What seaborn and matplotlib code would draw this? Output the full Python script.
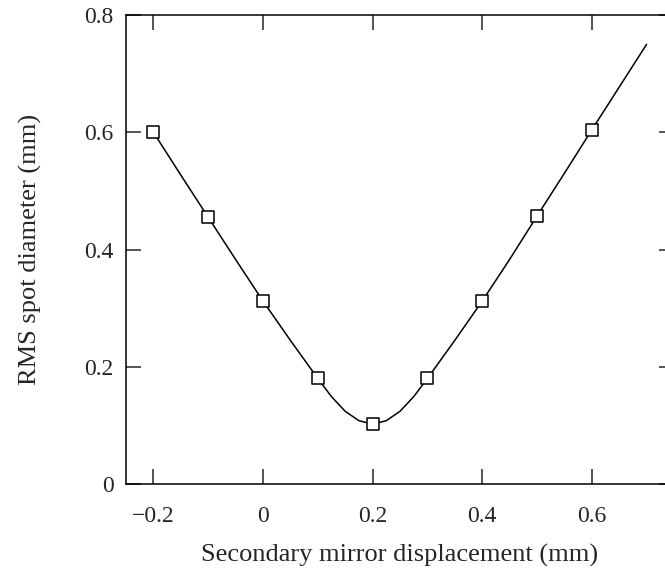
import numpy as np
import pandas as pd
import seaborn as sns
import matplotlib
matplotlib.use("Agg")
import matplotlib.pyplot as plt

# measured points (squares)
disp = [-0.2, -0.1, 0.0, 0.1, 0.2, 0.3, 0.4, 0.5, 0.6]
rms = [0.600, 0.455, 0.312, 0.180, 0.102, 0.180, 0.312, 0.457, 0.604]

# traced curve
curve_x = [-0.2, -0.15, -0.1, -0.05, 0.0, 0.05, 0.1, 0.125, 0.15, 0.175, 0.2,
           0.225, 0.25, 0.275, 0.3, 0.35, 0.4, 0.45, 0.5, 0.55, 0.6, 0.65, 0.7]
curve_y = [0.600, 0.527, 0.455, 0.383, 0.312, 0.245, 0.180, 0.149, 0.124,
           0.108, 0.102, 0.108, 0.124, 0.149, 0.180, 0.245, 0.312, 0.383,
           0.457, 0.530, 0.604, 0.677, 0.750]


def main():
    sns.set_style("ticks")
    plt.rcParams['font.family'] = ['Liberation Serif', 'DejaVu Serif']
    plt.rcParams['axes.linewidth'] = 1.1

    pts = pd.DataFrame({"x": disp, "y": rms})
    line = pd.DataFrame({"x": curve_x, "y": curve_y})

    fig = plt.figure(figsize=(6.65, 5.75), dpi=100)
    ax = fig.add_axes([126 / 665, 91 / 575, 548 / 665, 469 / 575])

    sns.lineplot(data=line, x="x", y="y", color="black", linewidth=1.1, ax=ax)
    sns.scatterplot(data=pts, x="x", y="y", marker="s", s=70,
                    facecolor="white", edgecolor="black", linewidth=1.1,
                    zorder=3, ax=ax)

    ax.set_xlim(-0.25, 0.75)
    ax.set_ylim(0, 0.8)
    ax.set_xticks([-0.2, 0, 0.2, 0.4, 0.6])
    ax.set_xticklabels(["\u22120.2", "0", "0.2", "0.4", "0.6"])
    ax.set_yticks([0, 0.2, 0.4, 0.6, 0.8])
    ax.set_yticklabels(["0", "0.2", "0.4", "0.6", "0.8"])
    ax.tick_params(direction="in", length=11, width=1.1, top=True, right=True,
                   labelsize=17)
    ax.tick_params(axis="x", pad=16)
    ax.tick_params(axis="y", pad=9)
    for s in ax.spines.values():
        s.set_visible(True)
        s.set_color("black")

    ax.set_xlabel("Secondary mirror displacement (mm)", fontsize=19, labelpad=12)
    ax.set_ylabel("RMS spot diameter (mm)", fontsize=19, labelpad=30)

    fig.savefig("out.png", dpi=100)
    plt.close(fig)


if __name__ == '__main__':
    main()
